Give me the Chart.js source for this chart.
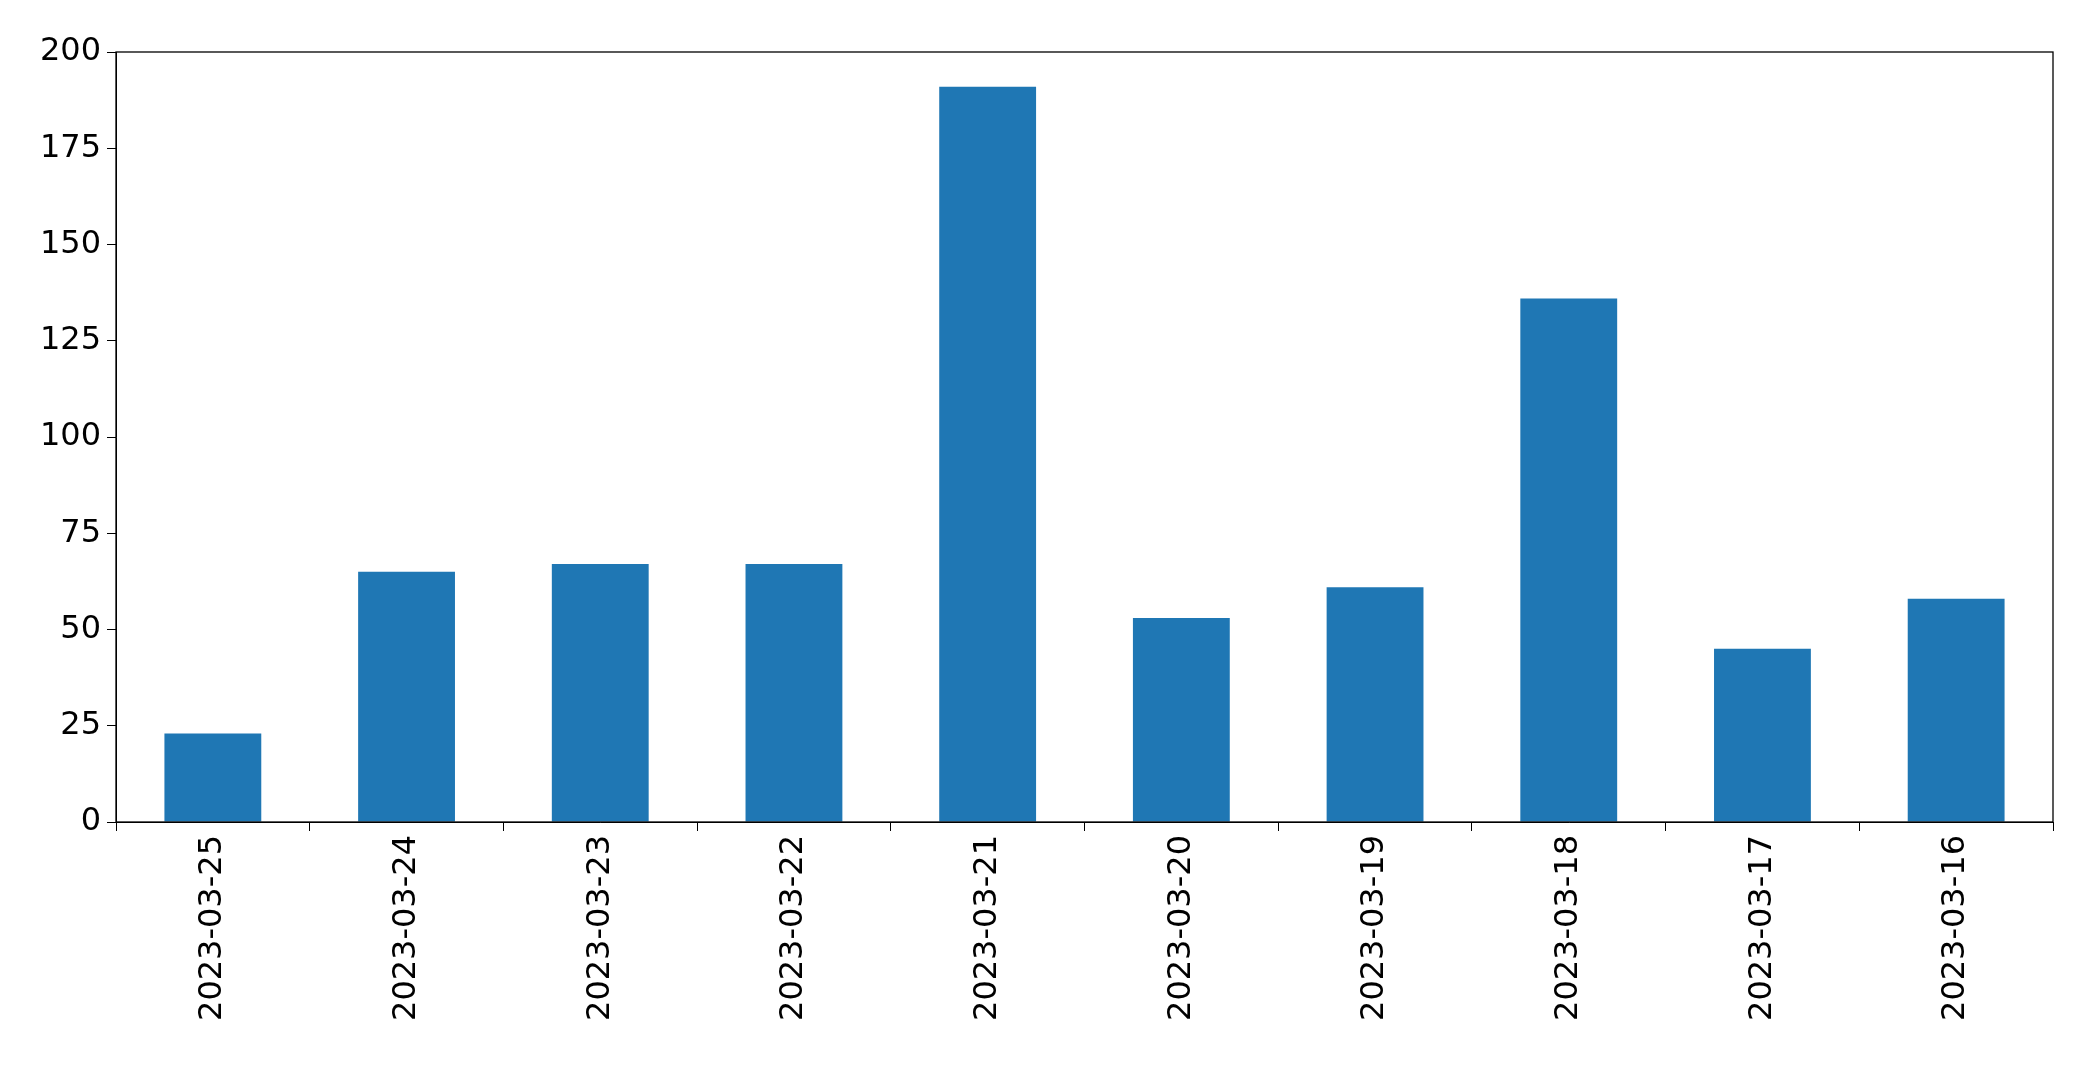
<!DOCTYPE html>
<html lang="en">
<head>
<meta charset="UTF-8">
<title>Daily counts</title>
<script src="https://cdn.jsdelivr.net/npm/chart.js@4.4.2/dist/chart.umd.min.js"></script>
<style>
  html, body { margin: 0; padding: 0; background: #fff; }
  #wrap { width: 2093px; height: 1073px; }
</style>
</head>
<body>
<div id="wrap"><canvas id="c" width="2093" height="1073"></canvas></div>
<script>
const dates = ['2023-03-25','2023-03-24','2023-03-23','2023-03-22','2023-03-21',
               '2023-03-20','2023-03-19','2023-03-18','2023-03-17','2023-03-16'];
const counts = [23, 65, 67, 67, 191, 53, 61, 136, 45, 58];
const yTicks = [0, 25, 50, 75, 100, 125, 150, 175, 200];

// matplotlib-style full frame around the plot area
const frame = {
  id: 'frame',
  afterDraw: chart => {
    const a = chart.chartArea, ctx = chart.ctx;
    ctx.save();
    ctx.strokeStyle = '#000';
    ctx.lineWidth = 1.3;
    ctx.strokeRect(a.left, a.top, a.right - a.left, a.bottom - a.top);
    ctx.restore();
  }
};

Chart.defaults.font.family = 'DejaVu Sans';
new Chart(document.getElementById('c'), {
  type: 'bar',
  data: {
    labels: dates,
    datasets: [{ data: counts, backgroundColor: '#1f77b4', categoryPercentage: 1, barPercentage: 0.5 }]
  },
  options: {
    responsive: false,
    animation: false,
    layout: { padding: { top: 52, right: 40, left: 0, bottom: 0 } },
    plugins: { legend: { display: false }, tooltip: { enabled: false } },
    scales: {
      x: {
        afterFit: s => { s.height = 251; },
        grid: { drawOnChartArea: false, color: '#000', tickLength: 9 },
        border: { color: '#000' },
        ticks: { color: '#000', font: { size: 32 }, maxRotation: 90, minRotation: 90, padding: 4 }
      },
      y: {
        min: 0, max: 200,
        afterFit: s => { s.width = 116; },
        afterBuildTicks: s => { s.ticks = yTicks.map(v => ({ value: v })); },
        grid: { drawOnChartArea: false, color: '#000', tickLength: 9 },
        border: { color: '#000' },
        ticks: { color: '#000', font: { size: 32 }, padding: 6 }
      }
    }
  },
  plugins: [frame]
});
</script>
</body>
</html>
